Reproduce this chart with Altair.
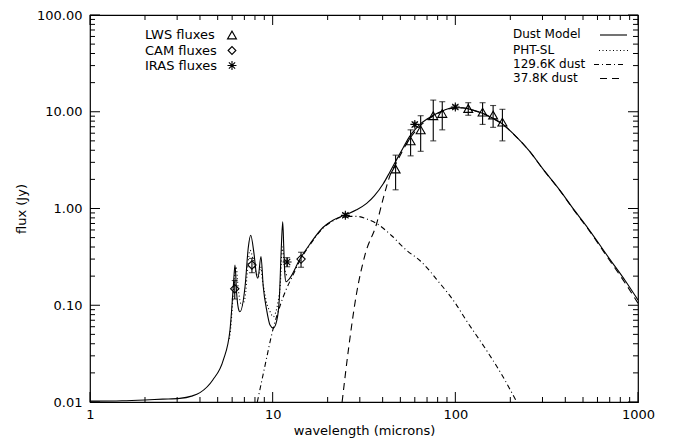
import altair as alt
import pandas as pd

# ---- data ----
model_wl = [1.0, 1.5, 2.0, 2.5, 3.1, 3.6, 4.0, 4.7, 5.37, 5.84, 6.09, 6.22, 6.35, 6.49, 6.62, 7.06, 7.36, 7.58,
            7.9, 8.16, 8.3, 8.63, 8.88, 9.27, 9.67, 10.08, 10.55, 10.89, 11.12, 11.35, 11.5, 11.65, 11.83, 12.4,
            14.1, 16.0, 18.9, 21.5, 25.0, 28.8, 32.7, 36.0, 40.3, 43.9, 47.7, 52.0, 56.0, 60.0, 64.0, 70.0,
            75.0, 86.0, 97.0, 110.0, 125.0, 142.0, 160.0, 179.0, 210.0, 256.0, 300.0, 373.0, 450.0, 534.0,
            700.0, 850.0, 1000.0]
model_flux = [0.0102, 0.0103, 0.0105, 0.0107, 0.0109, 0.0115, 0.0125, 0.0169, 0.0272, 0.0555, 0.156, 0.26, 0.133,
              0.093, 0.0857, 0.156, 0.40, 0.53, 0.344, 0.205, 0.19, 0.318, 0.156, 0.0893, 0.0625, 0.058, 0.0705,
              0.122, 0.344, 0.73, 0.40, 0.215, 0.175, 0.19, 0.30, 0.43, 0.64, 0.76, 0.86, 0.97, 1.13, 1.35, 1.8,
              2.4, 3.2, 4.3, 5.5, 6.5, 7.4, 8.4, 9.1, 10.3, 11.0, 11.0, 10.4, 9.6, 8.6, 7.6, 5.8, 3.87, 2.6,
              1.55, 0.95, 0.62, 0.30, 0.18, 0.113]

phtsl_wl = [5.8, 5.89, 6.1, 6.3, 6.5, 6.76, 7.06, 7.3, 7.52, 7.8, 8.1, 8.35, 8.6, 8.8, 9.0, 9.28, 9.7, 10.08,
            10.4, 10.7, 11.0, 11.3, 11.6, 12.0]
phtsl_flux = [0.045, 0.058, 0.14, 0.25, 0.14, 0.10, 0.12, 0.25, 0.37, 0.30, 0.22, 0.197, 0.25, 0.18, 0.14,
              0.105, 0.085, 0.076, 0.085, 0.108, 0.16, 0.40, 0.25, 0.20]

warm_wl = [8.24, 9.0, 10.08, 11.0, 11.83, 13.0, 14.1, 16.0, 18.9, 21.5, 25.0, 28.8, 32.7, 37.1, 45.0, 54.0,
           64.0, 82.0, 100.0, 113.0, 150.0, 180.0, 217.0]
warm_flux = [0.01, 0.022, 0.058, 0.10, 0.144, 0.21, 0.29, 0.42, 0.63, 0.75, 0.83, 0.83, 0.78, 0.70, 0.52,
             0.37, 0.29, 0.17, 0.105, 0.073, 0.033, 0.019, 0.01]

cold_wl = [24.0, 26.0, 28.8, 32.0, 37.1, 40.3, 43.9, 47.7, 52.0, 56.0, 60.0, 64.0, 70.0, 75.0, 86.0, 97.0,
           110.0, 125.0, 142.0, 160.0, 179.0, 210.0, 256.0, 300.0, 373.0, 450.0, 534.0, 700.0, 850.0, 1000.0]
cold_flux = [0.01, 0.035, 0.133, 0.33, 0.70, 1.27, 2.2, 3.0, 4.1, 5.2, 6.2, 7.1, 8.2, 8.95, 10.2, 10.9,
             10.95, 10.35, 9.55, 8.55, 7.55, 5.78, 3.86, 2.59, 1.54, 0.94, 0.61, 0.29, 0.17, 0.105]

lws_wl = [47.1, 56.9, 64.6, 75.7, 84.8, 117.7, 141.0, 161.0, 181.0]
lws_flux = [2.56, 5.0, 6.5, 9.1, 9.6, 10.8, 9.9, 9.25, 7.8]
lws_err = [1.0, 1.5, 2.6, 4.1, 3.1, 1.6, 2.5, 2.35, 2.8]

cam_wl = [6.2, 7.7, 14.3]
cam_flux = [0.148, 0.261, 0.30]
cam_err = [0.032, 0.044, 0.053]

iras_wl = [12.0, 25.0, 60.0, 100.0]
iras_flux = [0.28, 0.85, 7.4, 11.2]
iras_err = [0.03, 0.04, 0.4, 0.5]

x_major = [1, 10, 100, 1000]
y_major = [0.01, 0.1, 1, 10, 100]
x_minor = [m * d for d in [1, 10, 100] for m in range(2, 10)]
y_minor = [m * d for d in [0.01, 0.1, 1, 10] for m in range(2, 10)]

sym_labels = ["LWS fluxes", "CAM fluxes", "IRAS fluxes"]
line_labels = ["Dust Model", "PHT-SL", "129.6K dust", "37.8K dust"]

# ---- chart ----
W, H = 548, 387
FONT = "DejaVu Sans"
xs = alt.Scale(type="log", domain=[1, 1000], nice=False)
ys = alt.Scale(type="log", domain=[0.01, 100], nice=False)
x_axis = alt.Axis(values=x_major, format="d", tickSize=0, domain=False, grid=False, labelFlush=False,
                  labelOverlap=False, labelPadding=6, title="wavelength (microns)", titlePadding=3,
                  labelFont=FONT, titleFont=FONT, labelFontSize=13, titleFontSize=13,
                  titleFontWeight="normal", labelColor="black", titleColor="black")
y_axis = alt.Axis(values=y_major, format=".2f", tickSize=0, domain=False, grid=False, labelFlush=False,
                  labelOverlap=False, labelPadding=8, title="flux (Jy)", titlePadding=8,
                  labelFont=FONT, titleFont=FONT, labelFontSize=13, titleFontSize=13,
                  titleFontWeight="normal", labelColor="black", titleColor="black")


def X(f):
    return alt.X(f, type="quantitative", scale=xs, axis=x_axis)


def Y(f):
    return alt.Y(f, type="quantitative", scale=ys, axis=y_axis)


layers = []

# curves
curves = [
    (model_wl, model_flux, None),
    (phtsl_wl, phtsl_flux, [1, 2.5]),
    (warm_wl, warm_flux, [5, 3, 1, 3]),
    (cold_wl, cold_flux, [7, 5]),
]
for wl, fl, dash in curves:
    df = pd.DataFrame({"wl": wl, "flux": fl})
    kw = dict(color="black", strokeWidth=1.1, clip=True, interpolate="monotone")
    if dash is not None:
        kw["strokeDash"] = dash
    layers.append(alt.Chart(df).mark_line(**kw).encode(x=X("wl"), y=Y("flux")))

ASTER = "M-1,0L1,0M0,-1L0,1M-0.7,-0.7L0.7,0.7M-0.7,0.7L0.7,-0.7"

# error bars and points
pts = [
    (lws_wl, lws_flux, lws_err, "triangle-up", 80),
    (cam_wl, cam_flux, cam_err, "diamond", 70),
    (iras_wl, iras_flux, iras_err, ASTER, 80),
]
for wl, fl, er, shape, size in pts:
    df = pd.DataFrame({"wl": wl, "flux": fl, "err": er})
    df["lo"] = df["flux"] - df["err"]
    df["hi"] = df["flux"] + df["err"]
    layers.append(alt.Chart(df).mark_rule(color="black", strokeWidth=1.1).encode(
        x=X("wl"), y=Y("lo"), y2=alt.Y2("hi")))
    for end in ["lo", "hi"]:
        layers.append(alt.Chart(df).mark_tick(color="black", orient="horizontal", size=6, thickness=1.1).encode(
            x=X("wl"), y=Y(end)))
    layers.append(alt.Chart(df).mark_point(shape=shape, size=size, filled=False, color="black",
                                           strokeWidth=1.1, opacity=1).encode(x=X("wl"), y=Y("flux")))

# inward ticks on all four sides
for vals, L in [(x_major, 10), (x_minor, 5)]:
    df = pd.DataFrame({"t": vals})
    layers.append(alt.Chart(df).mark_rule(color="black", strokeWidth=1).encode(
        x=X("t"), y=alt.value(H), y2=alt.value(H - L)))
    layers.append(alt.Chart(df).mark_rule(color="black", strokeWidth=1).encode(
        x=X("t"), y=alt.value(0), y2=alt.value(L)))
for vals, L in [(y_major, 10), (y_minor, 5)]:
    df = pd.DataFrame({"t": vals})
    layers.append(alt.Chart(df).mark_rule(color="black", strokeWidth=1).encode(
        y=Y("t"), x=alt.value(0), x2=alt.value(L)))
    layers.append(alt.Chart(df).mark_rule(color="black", strokeWidth=1).encode(
        y=Y("t"), x=alt.value(W), x2=alt.value(W - L)))

# legends (decoration)
one = pd.DataFrame({"a": [0]})
sym_y = [20, 35.5, 50.5]
sym_shapes = [("triangle-up", 80), ("diamond", 60), (ASTER, 80)]
for lab, yy, (shape, size) in zip(sym_labels, sym_y, sym_shapes):
    layers.append(alt.Chart(one).mark_text(align="left", baseline="middle", font=FONT, fontSize=13,
                                           color="black").encode(
        x=alt.value(55), y=alt.value(yy), text=alt.value(lab)))
    layers.append(alt.Chart(one).mark_point(shape=shape, size=size, filled=False, color="black",
                                            strokeWidth=1.1, opacity=1).encode(
        x=alt.value(142), y=alt.value(yy)))

line_y = [19, 34.5, 48.5, 62.5]
line_dash = [None, [1, 2.5], [5, 3, 1, 3], [7, 5]]
line_x = [(510, 537), (509, 538), (504, 535), (510, 533)]
for lab, yy, dash, (x1, x2) in zip(line_labels, line_y, line_dash, line_x):
    layers.append(alt.Chart(one).mark_text(align="left", baseline="middle", font=FONT, fontSize=12,
                                           color="black").encode(
        x=alt.value(423), y=alt.value(yy), text=alt.value(lab)))
    kw = dict(color="black", strokeWidth=1.1)
    if dash is not None:
        kw["strokeDash"] = dash
    layers.append(alt.Chart(one).mark_rule(**kw).encode(
        x=alt.value(x1), x2=alt.value(x2), y=alt.value(yy + 1)))

chart = alt.layer(*layers).properties(
    width=W, height=H,
    autosize=alt.AutoSizeParams(type="none"),
    padding={"left": 82, "top": 7, "right": 30, "bottom": 40},
    background="white",
).configure_view(stroke="black", strokeWidth=1.2)

chart.save("out.html", embed_options={"renderer": "svg", "actions": False})
